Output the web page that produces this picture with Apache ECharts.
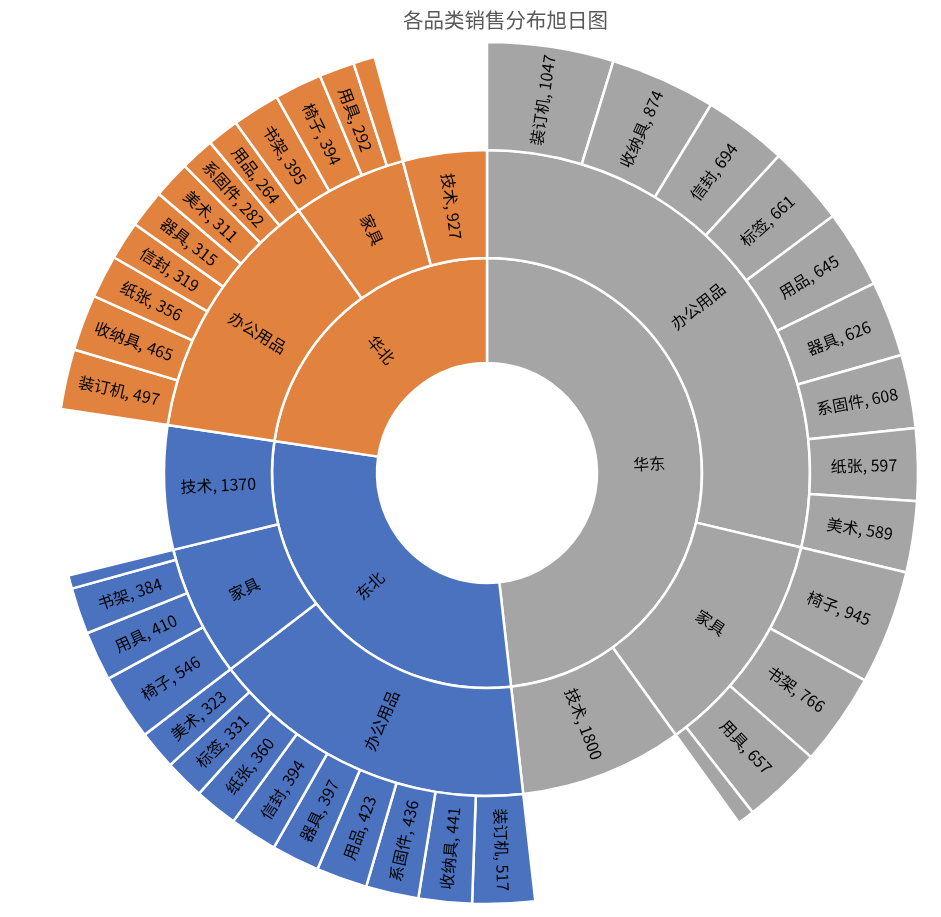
<!DOCTYPE html>
<html>
<head>
<meta charset="utf-8">
<script src="https://cdn.jsdelivr.net/npm/echarts@6/dist/echarts.min.js"></script>
<style>
html,body{margin:0;padding:0;background:#fff;}
#chart{width:941px;height:917px;}
</style>
</head>
<body>
<div id="chart"></div>
<script>
// ---------- data ----------
const titleText = '各品类销售分布旭日图';
const regions = ['华东', '东北', '华北'];
const categories = ['办公用品', '家具', '技术'];

// 华东
const eastOfficeNames = ['装订机', '收纳具', '信封', '标签', '用品', '器具', '系固件', '纸张', '美术'];
const eastOfficeValues = [1047, 874, 694, 661, 645, 626, 608, 597, 589];
const eastFurnNames = ['椅子', '书架', '用具', '其他'];
const eastFurnValues = [945, 766, 657, 140];
const eastTech = 1800;

// 东北
const neOfficeNames = ['装订机', '收纳具', '系固件', '用品', '器具', '信封', '纸张', '标签', '美术'];
const neOfficeValues = [517, 441, 436, 423, 397, 394, 360, 331, 323];
const neFurnNames = ['椅子', '用具', '书架', '其他'];
const neFurnValues = [546, 410, 384, 110];
const neTech = 1370;

// 华北
const northOfficeNames = ['装订机', '收纳具', '纸张', '信封', '器具', '美术', '系固件', '用品'];
const northOfficeValues = [497, 465, 356, 319, 315, 311, 282, 264];
const northFurnNames = ['书架', '椅子', '用具', '其他'];
const northFurnValues = [395, 394, 292, 180];
const northTech = 927;

// ---------- styles ----------
const regionColors = ['#A5A5A5', '#4A72BF', '#E1823F'];

function leaves(names, values, color) {
  return names.map((n, i) => {
    const d = { name: n, value: values[i], itemStyle: { color: color } };
    if (n === '其他') d.label = { show: false };
    return d;
  });
}
function region(idx, oN, oV, fN, fV, tech) {
  const c = regionColors[idx];
  return {
    name: regions[idx],
    itemStyle: { color: c },
    children: [
      { name: categories[0], itemStyle: { color: c }, children: leaves(oN, oV, c) },
      { name: categories[1], itemStyle: { color: c }, children: leaves(fN, fV, c) },
      { name: categories[2], itemStyle: { color: c }, value: tech }
    ]
  };
}
const treeData = [
  region(0, eastOfficeNames, eastOfficeValues, eastFurnNames, eastFurnValues, eastTech),
  region(1, neOfficeNames, neOfficeValues, neFurnNames, neFurnValues, neTech),
  region(2, northOfficeNames, northOfficeValues, northFurnNames, northFurnValues, northTech)
];

const chart = echarts.init(document.getElementById('chart'), null, { renderer: 'canvas' });
const font = "'Noto Sans CJK SC', 'Noto Sans', sans-serif";
chart.setOption({
  animation: false,
  title: {
    text: titleText,
    left: 398,
    top: 5,
    textStyle: { fontFamily: font, fontSize: 20.5, fontWeight: 'normal', color: '#595959' }
  },
  series: [{
    type: 'sunburst',
    center: [487, 473],
    sort: null,
    startAngle: 90,
    clockwise: true,
    nodeClick: false,
    emphasis: { disabled: true },
    data: treeData,
    itemStyle: { borderColor: '#fff', borderWidth: 2.5 },
    label: {
      color: '#000',
      fontFamily: font,
      fontSize: 16,
      rotate: 'radial',
      align: 'center',
      formatter: p => (p.data && p.data.children) ? p.name : p.name + ', ' + p.value
    },
    levels: [
      {},
      { radius: [110, 215] },
      { radius: [215, 323] },
      { radius: [323, 431] }
    ]
  }]
});
</script>
</body>
</html>
